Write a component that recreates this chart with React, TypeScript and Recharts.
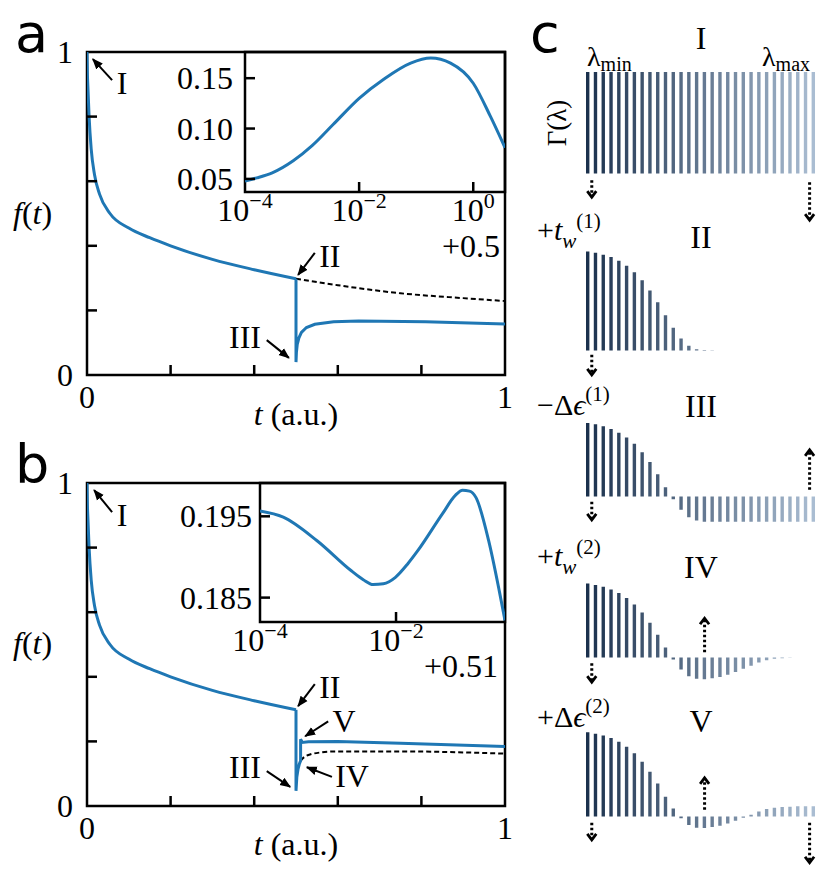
import React from 'react'
import {
  LineChart, Line, XAxis, YAxis, ReferenceArea, ReferenceLine, ReferenceDot,
  BarChart, Bar, Cell,
} from 'recharts'

const BLUE = '#1f77b4'
const SERIF = "'Liberation Serif', 'DejaVu Serif', serif"
const SANS = "'DejaVu Sans', 'Open Sans', sans-serif"

// f(t) up to the first step at t = 0.5 (same in a and b)
const decayT = [0, 0.001, 0.002, 0.005, 0.01, 0.018, 0.03, 0.055, 0.1, 0.15, 0.2, 0.3, 0.4, 0.5]
const decayF = [1, 0.93, 0.895, 0.8, 0.7, 0.62, 0.56, 0.5, 0.455, 0.425, 0.4, 0.358, 0.326, 0.298]

// panel a, after the step
const aStepT = [0.5, 0.5, 0.501, 0.503, 0.507, 0.513, 0.525, 0.545, 0.59, 0.65, 0.81, 1]
const aStepF = [0.298, 0.04, 0.07, 0.095, 0.115, 0.132, 0.147, 0.157, 0.165, 0.167, 0.165, 0.158]
const aDashT = [0.5, 0.6, 0.75, 0.9, 1]
const aDashF = [0.298, 0.278, 0.253, 0.238, 0.229]

// panel b, after the step
const bStepT = [0.5, 0.5, 0.502, 0.505, 0.508, 0.511, 0.511, 0.515, 0.53, 0.6, 0.75, 1]
const bStepF = [0.298, 0.047, 0.09, 0.115, 0.13, 0.14, 0.207, 0.197, 0.199, 0.2, 0.194, 0.184]
const bDashT = [0.511, 0.52, 0.535, 0.56, 0.59, 0.75, 1]
const bDashF = [0.14, 0.152, 0.16, 0.166, 0.169, 0.169, 0.162]

// insets, log time axis
const insetAT = [1e-4, 1.6e-4, 3e-4, 7e-4, 1.5e-3, 3.5e-3, 1e-2, 2.7e-2, 8e-2, 0.18, 0.4, 1, 2, 3.6]
const insetAF = [0.048, 0.051, 0.056, 0.068, 0.083, 0.104, 0.13, 0.149, 0.165, 0.17, 0.165, 0.145, 0.112, 0.081]
const insetBT = [1e-4, 2.2e-4, 6.9e-4, 2.2e-3, 3.3e-3, 4.6e-3, 6.5e-3, 9.8e-3, 1.5e-2, 2.1e-2, 4.8e-2, 7.5e-2, 9.5e-2, 0.12, 0.15, 0.23, 0.33, 0.4]
const insetBF = [0.19566, 0.1949, 0.192, 0.1883, 0.1872, 0.1866, 0.1867, 0.1875, 0.1892, 0.1908, 0.1953, 0.1976, 0.1982, 0.1981, 0.1973, 0.192, 0.1858, 0.1822]

const mainTicks = [0, 0.2, 0.4, 0.6, 0.8, 1]
const insetATicksX = [1e-4, 1e-2, 1]
const insetATicksY = [0.05, 0.1, 0.15]
const insetBTicksX = [1e-4, 1e-2]
const insetBTicksY = [0.185, 0.195]

// panel c: Γ(λ) for 30 rates
const lambdaIdx = [1, 2, 3, 4, 5, 6, 7, 8, 9, 10, 11, 12, 13, 14, 15, 16, 17, 18, 19, 20, 21, 22, 23, 24, 25, 26, 27, 28, 29, 30]
const gammaI = [1, 1, 1, 1, 1, 1, 1, 1, 1, 1, 1, 1, 1, 1, 1, 1, 1, 1, 1, 1, 1, 1, 1, 1, 1, 1, 1, 1, 1, 1]
const gammaII = [0.976, 0.963, 0.943, 0.92, 0.884, 0.834, 0.772, 0.693, 0.591, 0.476, 0.348, 0.223, 0.118, 0.046, 0.013, 0.006, 0.003, 0, 0, 0, 0, 0, 0, 0, 0, 0, 0, 0, 0, 0]
const gammaIII = [0.724, 0.711, 0.691, 0.664, 0.628, 0.582, 0.52, 0.437, 0.339, 0.22, 0.092, -0.026, -0.131, -0.204, -0.237, -0.25, -0.25, -0.25, -0.25, -0.25, -0.25, -0.25, -0.25, -0.25, -0.25, -0.25, -0.25, -0.25, -0.25, -0.25]
const gammaIV = [0.73, 0.714, 0.697, 0.671, 0.635, 0.586, 0.523, 0.444, 0.342, 0.224, 0.099, -0.02, -0.118, -0.184, -0.21, -0.214, -0.204, -0.192, -0.17, -0.143, -0.112, -0.082, -0.05, -0.026, -0.013, -0.007, -0.003, 0, 0, 0]
const gammaV = [0.829, 0.816, 0.799, 0.773, 0.737, 0.688, 0.622, 0.539, 0.441, 0.326, 0.194, 0.079, -0.018, -0.084, -0.11, -0.114, -0.104, -0.092, -0.07, -0.043, -0.012, 0.018, 0.05, 0.074, 0.087, 0.093, 0.097, 0.1, 0.1, 0.1]

// annotations (data coords)
const aArrows = [
  { from: [0.06, 0.913], to: [0.014, 0.978] },
  { from: [0.545, 0.378], to: [0.505, 0.31] },
  { from: [0.43, 0.108], to: [0.483, 0.053] },
]
const aLabels = [
  { t: 0.084, f: 0.904, text: 'I' },
  { t: 0.581, f: 0.368, text: 'II' },
  { t: 0.378, f: 0.115, text: 'III' },
]
const bArrows = [
  { from: [0.06, 0.91], to: [0.017, 0.978] },
  { from: [0.545, 0.377], to: [0.505, 0.309] },
  { from: [0.577, 0.262], to: [0.522, 0.216] },
  { from: [0.586, 0.09], to: [0.526, 0.12] },
  { from: [0.43, 0.108], to: [0.486, 0.059] },
]
const bLabels = [
  { t: 0.084, f: 0.9, text: 'I' },
  { t: 0.581, f: 0.367, text: 'II' },
  { t: 0.615, f: 0.262, text: 'V' },
  { t: 0.634, f: 0.09, text: 'IV' },
  { t: 0.378, f: 0.12, text: 'III' },
]

const zip = (xs: number[], ys: number[]) => xs.map((x, i) => ({ x, y: ys[i] }))

const barColor = (i: number) => {
  const t = i / 29
  const c0 = [27, 49, 77]
  const c1 = [170, 189, 210]
  const c = c0.map((v, j) => Math.round(v + (c1[j] - v) * t))
  return `rgb(${c[0]},${c[1]},${c[2]})`
}

const solidArrow = (p: any) => (
  <line x1={p.x1} y1={p.y1} x2={p.x2} y2={p.y2} stroke="#000" strokeWidth={2} markerEnd="url(#arrowSolid)" />
)
const dottedArrow = (p: any) => (
  <line x1={p.x1} y1={p.y1} x2={p.x2} y2={p.y2} stroke="#000" strokeWidth={3} strokeDasharray="2.5 2.5" markerEnd="url(#arrowDot)" />
)

const MainXTick = (p: any) => {
  const v = p.payload.value
  return (
    <g>
      {v > 0 && v < 1 && <line x1={p.x} x2={p.x} y1={p.y} y2={p.y - 10} stroke="#000" strokeWidth={2.5} />}
      {(v === 0 || v === 1) && (
        <text x={p.x} y={p.y + 33} textAnchor="middle" fontFamily={SERIF} fontSize={32}>{v}</text>
      )}
    </g>
  )
}

const MainYTick = (p: any) => {
  const v = p.payload.value
  return (
    <g>
      {v > 0 && v < 1 && <line x1={p.x} x2={p.x + 10} y1={p.y} y2={p.y} stroke="#000" strokeWidth={2.5} />}
      {(v === 0 || v === 1) && (
        <text x={p.x - 14} y={p.y + 11} textAnchor="end" fontFamily={SERIF} fontSize={32}>{v}</text>
      )}
    </g>
  )
}

function MainPanel({ top, stepT, stepF, dashT, dashF, arrows, labels }: any) {
  return (
    <div style={{ position: 'absolute', left: 0, top }}>
      <LineChart width={520} height={440} margin={{ top: 52, right: 15, bottom: 25, left: 47 }}>
        <XAxis type="number" dataKey="x" domain={[0, 1]} ticks={mainTicks} interval={0} allowDataOverflow
          axisLine={false} tickLine={false} tickSize={0} tickMargin={0} height={40} tick={(p: any) => <MainXTick {...p} />} />
        <YAxis type="number" domain={[0, 1]} ticks={mainTicks} interval={0} allowDataOverflow
          axisLine={false} tickLine={false} tickSize={0} tickMargin={0} width={40} tick={(p: any) => <MainYTick {...p} />} />
        <ReferenceArea x1={0} x2={1} y1={0} y2={1} fill="none" stroke="#000" strokeWidth={2.5} />
        <Line data={zip(dashT, dashF)} dataKey="y" type="monotone" stroke="#000" strokeWidth={2}
          strokeDasharray="5 3" dot={false} isAnimationActive={false} />
        <Line data={zip(decayT, decayF)} dataKey="y" type="monotone" stroke={BLUE} strokeWidth={3}
          dot={false} isAnimationActive={false} />
        <Line data={zip(stepT, stepF)} dataKey="y" type="linear" stroke={BLUE} strokeWidth={3}
          dot={false} isAnimationActive={false} />
        {arrows.map((a: any, i: number) => (
          <ReferenceLine key={'a' + i} segment={[{ x: a.from[0], y: a.from[1] }, { x: a.to[0], y: a.to[1] }]} shape={solidArrow} />
        ))}
        {labels.map((l: any, i: number) => (
          <ReferenceDot key={'l' + i} x={l.t} y={l.f} r={0}
            shape={(p: any) => (
              <text x={p.cx} y={p.cy + 10.5} textAnchor="middle" fontFamily={SERIF} fontSize={32}>{l.text}</text>
            )} />
        ))}
      </LineChart>
    </div>
  )
}

function InsetPanel({ left, top, width, height, xDomain, yDomain, xTicks, yTicks, t, f, digits, gap }: any) {
  const xTick = (p: any) => {
    const v = p.payload.value
    const e = Math.round(Math.log10(v))
    return (
      <g>
        {v > xDomain[0] && <line x1={p.x} x2={p.x} y1={p.y} y2={p.y - 10} stroke="#000" strokeWidth={2.5} />}
        <text x={p.x} y={p.y + 29} textAnchor="middle" fontFamily={SERIF} fontSize={32}>
          10<tspan fontSize={22} dy={-13}>{e < 0 ? '\u2212' + -e : e}</tspan>
        </text>
      </g>
    )
  }
  const yTick = (p: any) => (
    <g>
      <line x1={p.x} x2={p.x + 10} y1={p.y} y2={p.y} stroke="#000" strokeWidth={2.5} />
      <text x={p.x - gap} y={p.y + 11} textAnchor="end" fontFamily={SERIF} fontSize={32}>
        {p.payload.value.toFixed(digits)}
      </text>
    </g>
  )
  return (
    <div style={{ position: 'absolute', left, top }}>
      <LineChart width={width} height={height} margin={{ top: 10, right: 15, bottom: 10, left: 45 }}>
        <XAxis type="number" dataKey="x" scale="log" domain={xDomain} ticks={xTicks} interval={0} allowDataOverflow
          axisLine={false} tickLine={false} tickSize={0} tickMargin={0} height={40} tick={xTick} />
        <YAxis type="number" domain={yDomain} ticks={yTicks} interval={0} allowDataOverflow
          axisLine={false} tickLine={false} tickSize={0} tickMargin={0} width={40} tick={yTick} />
        <ReferenceArea x1={xDomain[0]} x2={xDomain[1]} y1={yDomain[0]} y2={yDomain[1]} fill="none" stroke="#000" strokeWidth={2.5} />
        <Line data={zip(t, f)} dataKey="y" type="monotone" stroke={BLUE} strokeWidth={3}
          dot={false} isAnimationActive={false} />
      </LineChart>
    </div>
  )
}

function GammaRow({ baseline, values, arrows }: any) {
  const data = lambdaIdx.map((k, i) => ({ k, v: values[i] }))
  return (
    <div style={{ position: 'absolute', left: 583.8, top: baseline - 101.5 }}>
      <BarChart width={233.4} height={162.4} data={data} margin={{ top: 0, right: 0, bottom: 0, left: 0 }}>
        <XAxis type="number" dataKey="k" domain={[0.5, 30.5]} hide allowDataOverflow />
        <YAxis type="number" domain={[-0.6, 1]} hide allowDataOverflow />
        <Bar dataKey="v" barSize={3.4} isAnimationActive={false}>
          {data.map((d, i) => <Cell key={i} fill={barColor(i)} />)}
        </Bar>
        {arrows.map((a: any, i: number) => (
          <ReferenceLine key={i} segment={[{ x: a.x, y: a.from }, { x: a.x, y: a.to }]} shape={dottedArrow} />
        ))}
      </BarChart>
    </div>
  )
}

const txt = { fontFamily: SERIF, fontSize: 32 }

export default function App() {
  return (
    <div style={{ position: 'absolute', left: 0, top: 0, width: 830, height: 878, background: '#fff', overflow: 'hidden' }}>
      <svg width={0} height={0} style={{ position: 'absolute' }}>
        <defs>
          <marker id="arrowSolid" viewBox="0 0 10 10" refX={9} refY={5} markerWidth={11} markerHeight={11}
            markerUnits="userSpaceOnUse" orient="auto">
            <path d="M0,1 L10,5 L0,9 Z" fill="#000" />
          </marker>
          <marker id="arrowDot" viewBox="0 0 12 12" refX={9} refY={6} markerWidth={12} markerHeight={12}
            markerUnits="userSpaceOnUse" orient="auto">
            <path d="M3,1.5 L9,6 L3,10.5" fill="none" stroke="#000" strokeWidth={2.8} />
          </marker>
        </defs>
      </svg>

      <MainPanel top={0} stepT={aStepT} stepF={aStepF} dashT={aDashT} dashF={aDashF} arrows={aArrows} labels={aLabels} />
      <InsetPanel left={160} top={42} width={360} height={200} xDomain={[1e-4, 3.6]} yDomain={[0.037, 0.176]}
        xTicks={insetATicksX} yTicks={insetATicksY} t={insetAT} f={insetAF} digits={2} gap={12} />

      <MainPanel top={431} stepT={bStepT} stepF={bStepF} dashT={bDashT} dashF={bDashF} arrows={bArrows} labels={bLabels} />
      <InsetPanel left={175} top={473} width={345} height={199} xDomain={[1e-4, 0.4]} yDomain={[0.182, 0.1991]}
        xTicks={insetBTicksX} yTicks={insetBTicksY} t={insetBT} f={insetBF} digits={3} gap={8} />

      <GammaRow baseline={173.3} values={gammaI}
        arrows={[{ x: 1.5, from: -0.066, to: -0.233 }, { x: 29.5, from: -0.086, to: -0.46 }]} />
      <GammaRow baseline={350.7} values={gammaII} arrows={[{ x: 1.5, from: -0.042, to: -0.24 }]} />
      <GammaRow baseline={496.7} values={gammaIII}
        arrows={[{ x: 1.5, from: -0.052, to: -0.23 }, { x: 29.5, from: 0.066, to: 0.46 }]} />
      <GammaRow baseline={657.3} values={gammaIV}
        arrows={[{ x: 1.5, from: -0.056, to: -0.243 }, { x: 16, from: 0.052, to: 0.387 }]} />
      <GammaRow baseline={816.7} values={gammaV}
        arrows={[{ x: 1.5, from: -0.062, to: -0.23 }, { x: 16, from: 0.066, to: 0.38 }, { x: 29.5, from: -0.062, to: -0.456 }]} />

      <svg width={830} height={878} style={{ position: 'absolute', left: 0, top: 0, pointerEvents: 'none' }}>
        <text x={15} y={52} fontFamily={SANS} fontSize={54}>a</text>
        <text x={15} y={483} fontFamily={SANS} fontSize={54}>b</text>
        <text x={530} y={52} fontFamily={SANS} fontSize={54}>c</text>

        <text x={13} y={224} {...txt}><tspan fontStyle="italic">f</tspan>(<tspan fontStyle="italic">t</tspan>)</text>
        <text x={296} y={425} textAnchor="middle" {...txt}><tspan fontStyle="italic">t</tspan> (a.u.)</text>
        <text x={500} y={257} textAnchor="end" {...txt}>+0.5</text>

        <text x={13} y={654} {...txt}><tspan fontStyle="italic">f</tspan>(<tspan fontStyle="italic">t</tspan>)</text>
        <text x={296} y={855} textAnchor="middle" {...txt}><tspan fontStyle="italic">t</tspan> (a.u.)</text>
        <text x={498} y={677} textAnchor="end" {...txt}>+0.51</text>

        <text x={701} y={49} textAnchor="middle" {...txt}>I</text>
        <text x={701} y={248} textAnchor="middle" {...txt}>II</text>
        <text x={701} y={417} textAnchor="middle" {...txt}>III</text>
        <text x={701} y={578} textAnchor="middle" {...txt}>IV</text>
        <text x={701} y={732} textAnchor="middle" {...txt}>V</text>

        <text x={587} y={66} fontFamily={SERIF} fontSize={28}>λ<tspan fontSize={20} dy={5}>min</tspan></text>
        <text x={762} y={66} fontFamily={SERIF} fontSize={28}>λ<tspan fontSize={20} dy={5}>max</tspan></text>
        <text transform="translate(566,123) rotate(-90)" textAnchor="middle" fontFamily={SERIF} fontSize={27}>Γ(λ)</text>

        <text x={537} y={240} fontFamily={SERIF} fontSize={30}>+<tspan fontStyle="italic">t</tspan>
          <tspan fontStyle="italic" fontSize={21} dy={8}>w</tspan><tspan fontSize={21} dy={-20}>(1)</tspan></text>
        <text x={537} y={415} fontFamily={SERIF} fontSize={30}>−Δ<tspan fontStyle="italic">ϵ</tspan>
          <tspan fontSize={21} dy={-14}>(1)</tspan></text>
        <text x={537} y={566} fontFamily={SERIF} fontSize={30}>+<tspan fontStyle="italic">t</tspan>
          <tspan fontStyle="italic" fontSize={21} dy={8}>w</tspan><tspan fontSize={21} dy={-20}>(2)</tspan></text>
        <text x={537} y={727} fontFamily={SERIF} fontSize={30}>+Δ<tspan fontStyle="italic">ϵ</tspan>
          <tspan fontSize={21} dy={-14}>(2)</tspan></text>
      </svg>
    </div>
  )
}
